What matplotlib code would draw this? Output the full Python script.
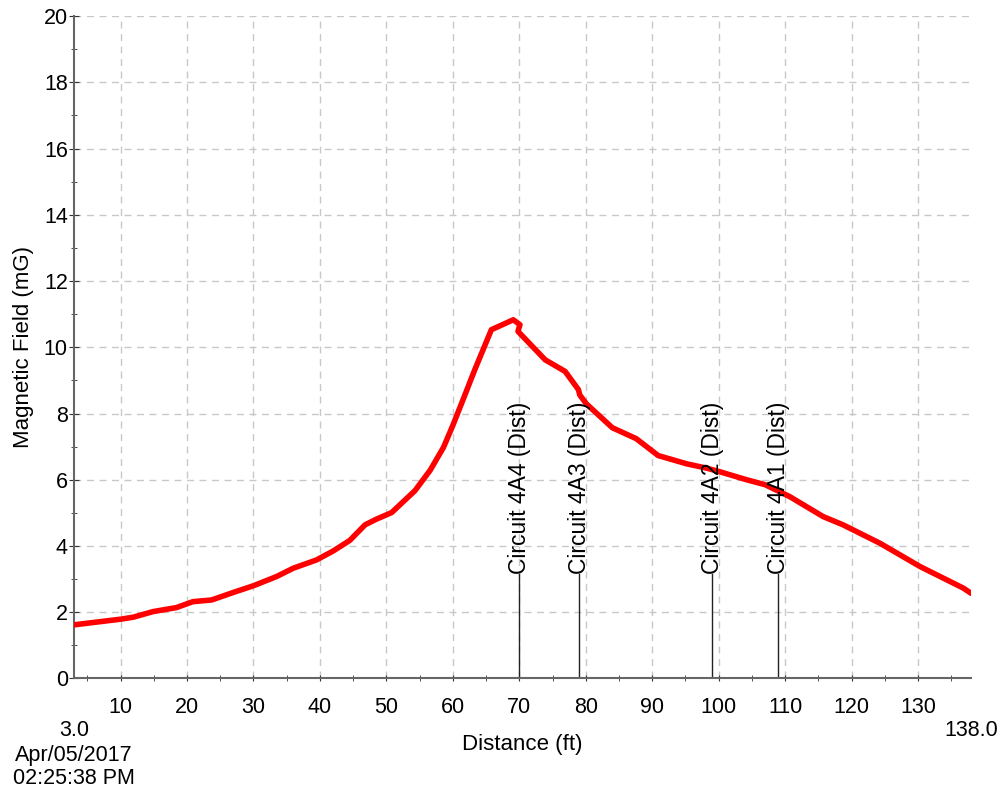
import matplotlib
matplotlib.use("Agg")
import matplotlib.pyplot as plt
from matplotlib.ticker import MultipleLocator
from matplotlib.transforms import blended_transform_factory

plt.rcParams['font.family'] = ['Liberation Sans', 'DejaVu Sans']

# Field survey along the path
dist = [3.0, 10.0, 11.9, 14.9, 18.4, 20.9, 23.7, 27.0, 30.0, 33.5, 36.0, 39.5,
        42.0, 44.5, 46.8, 48.5, 50.8, 54.3, 56.6, 58.6, 60.0, 61.6, 63.3, 65.8,
        69.1, 70.1, 69.8, 73.9, 76.9, 78.9, 79.1, 80.1, 84.0, 87.6, 90.9, 95.2,
        98.2, 100.2, 104.2, 107.0, 110.7, 115.7, 118.7, 124.3, 130.3, 134.3,
        136.8, 138.0]
field = [1.62, 1.79, 1.85, 2.02, 2.14, 2.32, 2.37, 2.60, 2.80, 3.08, 3.33, 3.58,
         3.85, 4.17, 4.64, 4.81, 5.01, 5.67, 6.29, 6.98, 7.64, 8.45, 9.32, 10.53,
         10.83, 10.68, 10.48, 9.62, 9.27, 8.72, 8.56, 8.29, 7.57, 7.24, 6.73, 6.48,
         6.35, 6.24, 6.00, 5.85, 5.49, 4.89, 4.64, 4.08, 3.38, 2.98, 2.73, 2.57]

# Circuit crossings
circuit_dist = [70, 79, 99, 109]
circuit_names = ["Circuit 4A4 (Dist)", "Circuit 4A3 (Dist)",
                 "Circuit 4A2 (Dist)", "Circuit 4A1 (Dist)"]

x_start, x_end = 3.0, 138.0
survey_date = "Apr/05/2017"
survey_time = "02:25:38 PM"

fig = plt.figure(figsize=(10.03, 7.93), dpi=100)
ax = fig.add_axes([0.0738, 0.1444, 0.8945, 0.8354])

ax.set_xlim(x_start, x_end)
ax.set_ylim(0, 20)

ax.xaxis.set_major_locator(MultipleLocator(10))
ax.xaxis.set_minor_locator(MultipleLocator(5))
ax.yaxis.set_major_locator(MultipleLocator(2))
ax.yaxis.set_minor_locator(MultipleLocator(1))

ax.grid(True, which='major', color='#c8c8c8', linestyle=(0, (5, 4)), linewidth=1.0)
ax.set_axisbelow(True)

for side in ('top', 'right'):
    ax.spines[side].set_visible(False)
for side in ('left', 'bottom'):
    ax.spines[side].set_color('#666666')
    ax.spines[side].set_linewidth(1.5)

ax.tick_params(axis='both', which='both', direction='inout', color='#333333',
               labelsize=15.5, labelcolor='black')
ax.tick_params(axis='y', which='major', length=7, pad=1)
ax.tick_params(axis='y', which='minor', length=4)
ax.tick_params(axis='x', which='major', length=5, pad=11)
ax.tick_params(axis='x', which='minor', length=5)

# Survey trace
ax.plot(dist, field, color='#ff0000', linewidth=4.0, solid_joinstyle='round',
        solid_capstyle='round', zorder=3)

# Circuit markers with vertical labels
leader_top = 3.15
for d, name in zip(circuit_dist, circuit_names):
    ax.plot([d, d], [0, leader_top], color='#222222', linewidth=1.0, zorder=2)
    ax.text(d, leader_top, name, rotation=90, ha='center', va='bottom',
            fontsize=16.5, color='black', zorder=4)

ax.set_ylabel("Magnetic Field (mG)", fontsize=16, labelpad=7)
ax.set_xlabel("Distance (ft)", fontsize=16, labelpad=11)

# Range ends and timestamp below the axis
trans = blended_transform_factory(ax.transData, fig.transFigure)
ax.text(x_start, 1 - 730 / 793, f"{x_start:.1f}", transform=trans,
        ha='center', va='center', fontsize=15.5)
ax.text(x_end, 1 - 730 / 793, f"{x_end:.1f}", transform=trans,
        ha='center', va='center', fontsize=15.5)
ax.text(x_start, 1 - 755 / 793, survey_date, transform=trans,
        ha='center', va='center', fontsize=15.5)
ax.text(x_start, 1 - 779 / 793, survey_time, transform=trans,
        ha='center', va='center', fontsize=15.5)

fig.savefig("out.png", dpi=100)
